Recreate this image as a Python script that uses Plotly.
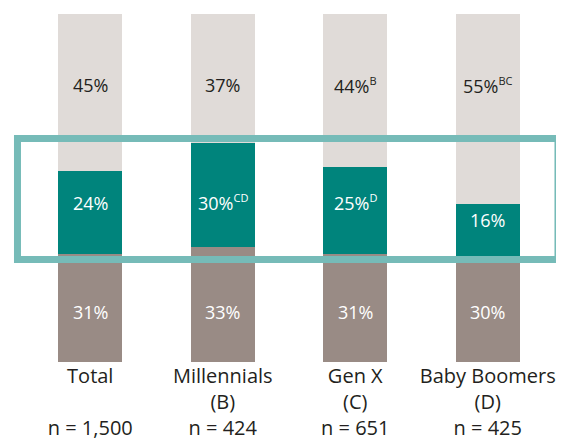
import plotly.graph_objects as go

categories = ["Total", "Millennials", "Gen X", "Baby Boomers"]
group_codes = ["", "(B)", "(C)", "(D)"]
sample_sizes = ["1,500", "424", "651", "425"]

bottom_vals = [31, 33, 31, 30]
middle_vals = [24, 30, 25, 16]
top_vals = [45, 37, 44, 55]

middle_sup = ["", "CD", "D", ""]
top_sup = ["", "", "B", "BC"]

C_TOP = "#E0DBD8"
C_MID = "#00847C"
C_BOT = "#998B85"
C_BOX = "#76BBB8"
C_TEXT = "#231F20"
FONT = "Open Sans"


def label(v, s):
    t = f"{v}%"
    if s:
        t += f"<sup><span style='font-size:11px'>{s}</span></sup>"
    return t


fig = go.Figure()
for vals, col in [(bottom_vals, C_BOT), (middle_vals, C_MID), (top_vals, C_TOP)]:
    fig.add_trace(go.Bar(x=categories, y=vals, marker_color=col,
                         marker_line_width=0, hoverinfo="skip"))

# label levels (in the normalized 0-100 space)
TOP_LEVEL = 79.5
MID_LEVEL = 45.7
BOT_LEVEL = 14.4
for i, c in enumerate(categories):
    tot = bottom_vals[i] + middle_vals[i] + top_vals[i]
    b = bottom_vals[i] * 100 / tot
    m = middle_vals[i] * 100 / tot
    specs = [
        (BOT_LEVEL, label(bottom_vals[i], ""), "white"),
        (min(MID_LEVEL, b + 0.7 * m), label(middle_vals[i], middle_sup[i]), "white"),
        (TOP_LEVEL, label(top_vals[i], top_sup[i]), C_TEXT),
    ]
    for y, txt, colr in specs:
        fig.add_annotation(x=c, y=y, text=txt, showarrow=False,
                           font=dict(size=18, color=colr, family=FONT))

ticktext = []
for c, g, n in zip(categories, group_codes, sample_sizes):
    ticktext.append(f"{c}<br>{g if g else ' '}<br>n = {n}")

fig.update_layout(
    barmode="stack", barnorm="percent", bargap=0.517,
    width=556, height=430,
    margin=dict(l=16, r=10, t=6, b=76),
    plot_bgcolor="white", paper_bgcolor="white",
    showlegend=False,
    font=dict(family=FONT, color=C_TEXT),
    xaxis=dict(tickmode="array", tickvals=categories, ticktext=ticktext,
               tickfont=dict(size=20, color=C_TEXT, family=FONT),
               automargin=False,
               showline=False, showgrid=False, zeroline=False, ticks=""),
    yaxis=dict(range=[0, 100], visible=False, showgrid=False, zeroline=False,
               automargin=False),
)

fig.add_shape(type="rect", xref="paper", yref="paper",
              x0=-0.0123, x1=1.0075, y0=0.2945, y1=0.642,
              line=dict(color=C_BOX, width=7), fillcolor="rgba(0,0,0,0)",
              layer="above")

fig.write_html("out.html")
